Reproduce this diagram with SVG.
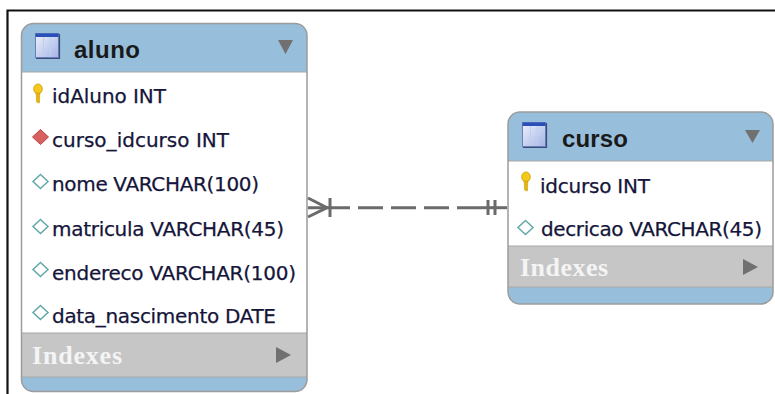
<svg xmlns="http://www.w3.org/2000/svg" xmlns:xlink="http://www.w3.org/1999/xlink" width="775" height="394" viewBox="0 0 775 394">
<defs>
<style>
.frame{stroke:#111;stroke-width:2.2;fill:none}
.hdr{fill:#97bedb}
.body{fill:#ffffff}
.idx{fill:#c6c6c6}
.outline{fill:none;stroke:#9c9c9c;stroke-width:1.5}
.sep{stroke:#a8a8a8;stroke-width:1.2}
.title{font-family:"Liberation Sans",Arial,sans-serif;font-weight:bold;font-size:24px;fill:#1a1a1a}
.col{font-family:"DejaVu Sans",Verdana,sans-serif;font-size:20px;fill:#15153a;stroke:#15153a;stroke-width:0.25}
.ixt{font-family:"Liberation Serif","Times New Roman",serif;font-weight:bold;font-size:26px;fill:#f4f4f4}
.tri{fill:#707070}
.attr{fill:#ffffff;stroke:#62a8a8;stroke-width:1.5}
.fk{fill:#d96060;stroke:#b84444;stroke-width:1}
.conn{stroke:#6b6b6b;stroke-width:3;fill:none}
</style>
<linearGradient id="ig" x1="0" y1="0" x2="1" y2="1">
<stop offset="0" stop-color="#eef2fd"/>
<stop offset="1" stop-color="#a3b4e4"/>
</linearGradient>
<g id="ticon">
<rect x="0.5" y="0.5" width="23" height="24" fill="url(#ig)" stroke="#6a7fb8" stroke-width="1"/>
<rect x="0.5" y="0.5" width="23" height="3.5" fill="#2b4fb8"/>
<line x1="8.5" y1="4" x2="8.5" y2="24" stroke="#c2cdee" stroke-width="1"/>
<line x1="15.5" y1="4" x2="15.5" y2="24" stroke="#c2cdee" stroke-width="1"/>
<path d="M1 25.5 H24.5 V1" fill="none" stroke="#3c4c7a" stroke-width="1.2"/>
</g>
<g id="key">
<ellipse cx="5" cy="5" rx="4.3" ry="5" fill="#f5c81c" stroke="#c99c00" stroke-width="0.8"/>
<path d="M3.2 9 L6.8 9 L6.4 19 L3.6 18 Z" fill="#e9b412" stroke="#c99c00" stroke-width="0.6"/>
</g>
</defs>

<rect x="0" y="0" width="775" height="394" fill="#ffffff"/>
<path class="frame" d="M7.5 394 V10.5 H775"/>

<g id="aluno">
<rect class="hdr" x="21.5" y="23.5" width="285.5" height="368" rx="12"/>
<rect class="body" x="21.5" y="72" width="285.5" height="261"/>
<rect class="idx" x="21.5" y="333" width="285.5" height="44"/>
<line class="sep" x1="21.5" y1="72" x2="307" y2="72"/>
<line class="sep" x1="21.5" y1="333" x2="307" y2="333"/>
<line class="sep" x1="21.5" y1="377" x2="307" y2="377"/>
<rect class="outline" x="21.5" y="23.5" width="285.5" height="368" rx="12"/>
<use xlink:href="#ticon" x="35" y="33"/>
<text class="title" x="74" y="58" textLength="66">aluno</text>
<polygon class="tri" points="278,40 293,40 285.5,54"/>
<use xlink:href="#key" x="33" y="84"/>
<text class="col" x="52" y="102.5" textLength="114">idAluno INT</text>
<polygon class="fk" points="40.5,129.5 48.5,137 40.5,144.5 32.5,137"/>
<text class="col" x="52" y="146.5" textLength="177">curso_idcurso INT</text>
<polygon class="attr" points="40.5,174.5 48,181.5 40.5,188.5 33,181.5"/>
<text class="col" x="52" y="191" textLength="207">nome VARCHAR(100)</text>
<polygon class="attr" points="40.5,219.5 48,226.5 40.5,233.5 33,226.5"/>
<text class="col" x="52" y="235.5" textLength="232">matricula VARCHAR(45)</text>
<polygon class="attr" points="40.5,262.5 48,269.5 40.5,276.5 33,269.5"/>
<text class="col" x="52" y="279.5" textLength="244">endereco VARCHAR(100)</text>
<polygon class="attr" points="40.5,305.5 48,312.5 40.5,319.5 33,312.5"/>
<text class="col" x="52" y="323" textLength="224">data_nascimento DATE</text>
<text class="ixt" x="32" y="364" textLength="90">Indexes</text>
<polygon class="tri" points="276,347 276,363 291,355"/>
</g>

<g id="curso">
<rect class="hdr" x="508" y="112" width="265" height="192" rx="12"/>
<rect class="body" x="508" y="161" width="265" height="85"/>
<rect class="idx" x="508" y="246" width="265" height="41"/>
<line class="sep" x1="508" y1="161" x2="773" y2="161"/>
<line class="sep" x1="508" y1="246" x2="773" y2="246"/>
<line class="sep" x1="508" y1="287" x2="773" y2="287"/>
<rect class="outline" x="508" y="112" width="265" height="192" rx="12"/>
<use xlink:href="#ticon" x="522" y="122"/>
<text class="title" x="562" y="147" textLength="66">curso</text>
<polygon class="tri" points="745,130 760,130 752.5,143"/>
<use xlink:href="#key" x="521" y="172"/>
<text class="col" x="540" y="193" textLength="110">idcurso INT</text>
<polygon class="attr" points="525.5,220.5 533,227.5 525.5,234.5 518,227.5"/>
<text class="col" x="541" y="236" textLength="221">decricao VARCHAR(45)</text>
<text class="ixt" x="520" y="276" textLength="88">Indexes</text>
<polygon class="tri" points="743,259 743,275 758,267"/>
</g>

<g id="connectors">
<path class="conn" stroke-width="2.5" d="M308 198 L327 207.7 L308 217"/>
<line class="conn" x1="308" y1="207.7" x2="350" y2="207.7"/>
<line class="conn" x1="330" y1="198" x2="330" y2="217"/>
<line class="conn" x1="358" y1="207.7" x2="482" y2="207.7" stroke-dasharray="25 8"/>
<line class="conn" x1="482" y1="207.7" x2="507" y2="207.7"/>
<line class="conn" x1="488" y1="200" x2="488" y2="215"/>
<line class="conn" x1="495" y1="200" x2="495" y2="215"/>
</g>
</svg>
